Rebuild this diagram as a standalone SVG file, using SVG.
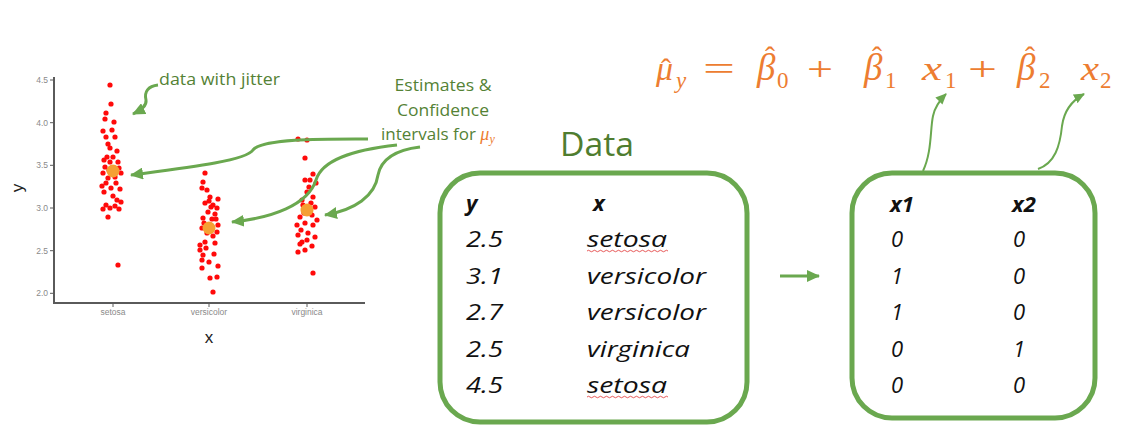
<svg xmlns="http://www.w3.org/2000/svg" width="1136" height="440" viewBox="0 0 1136 440">
<style>
.dot{fill:#ff0a0a}
.mean{fill:#f5a033}
.tick{font-family:"Liberation Sans",Arial,sans-serif;font-size:8.5px;fill:#8a8a8a}
.axt{font-family:"Liberation Sans",Arial,sans-serif;font-size:17px;fill:#222}
.ann{font-family:"Open Sans","Liberation Sans",sans-serif;font-size:17px;fill:#548235}
.title{font-family:"Open Sans","Liberation Sans",sans-serif;font-size:32px;fill:#4f7d30}
.cell{font-family:"Open Sans","Liberation Sans",sans-serif;font-style:italic;font-size:22px;fill:#111}
.hd{font-weight:bold}
.box{fill:none;stroke:#6aa84f;stroke-width:5}
.conn{fill:none;stroke:#6aa84f;stroke-width:3}
.thin{fill:none;stroke:#6aa84f;stroke-width:2}
.eq{font-family:"Liberation Serif","DejaVu Serif",serif;font-style:italic;fill:#ed7d31;font-size:34px}
.up{font-style:normal}
.sub{font-size:23px}
.big{font-size:37px}
.hat{font-style:normal;font-size:30px}
.wavy{fill:none;stroke:#e03030;stroke-width:0.8}
</style>
<defs>
<marker id="ah" markerUnits="userSpaceOnUse" markerWidth="14" markerHeight="12" refX="12" refY="6" orient="auto">
<path d="M0,0 L13,6 L0,12 Z" fill="#6aa84f"/>
</marker>
<marker id="ahs" markerUnits="userSpaceOnUse" markerWidth="12" markerHeight="10" refX="10" refY="5" orient="auto">
<path d="M0,0 L11,5 L0,10 Z" fill="#6aa84f"/>
</marker>
</defs>

<g id="plot">
<path d="M54,77 L54,303 L365,303" fill="none" stroke="#5a5a5a" stroke-width="2"/>
<g stroke="#5a5a5a" stroke-width="1">
<path d="M50,80 H54 M50,122.7 H54 M50,165.3 H54 M50,208 H54 M50,250.7 H54 M50,293.3 H54"/>
<path d="M113,303 V307 M209,303 V307 M307,303 V307"/>
</g>
<g class="tick" text-anchor="end">
<text x="48" y="83">4.5</text>
<text x="48" y="125.7">4.0</text>
<text x="48" y="168.3">3.5</text>
<text x="48" y="211">3.0</text>
<text x="48" y="253.7">2.5</text>
<text x="48" y="296.3">2.0</text>
</g>
<g class="tick" text-anchor="middle">
<text x="113" y="315">setosa</text>
<text x="209" y="315">versicolor</text>
<text x="307" y="315">virginica</text>
</g>
<text class="axt" x="209" y="343" text-anchor="middle">x</text>
<text class="axt" x="0" y="0" text-anchor="middle" transform="translate(23,188) rotate(-90)">y</text>
<g id="points">
<circle class="dot" cx="110" cy="85" r="2.6"/><circle class="dot" cx="111" cy="104" r="2.6"/><circle class="dot" cx="106" cy="113" r="2.6"/><circle class="dot" cx="105" cy="119" r="2.6"/><circle class="dot" cx="103" cy="131" r="2.6"/><circle class="dot" cx="112" cy="130" r="2.6"/><circle class="dot" cx="106" cy="137" r="2.6"/><circle class="dot" cx="115" cy="137" r="2.6"/><circle class="dot" cx="110" cy="148" r="2.6"/><circle class="dot" cx="117" cy="151" r="2.6"/><circle class="dot" cx="107" cy="157" r="2.6"/><circle class="dot" cx="113" cy="157" r="2.6"/><circle class="dot" cx="110" cy="162" r="2.6"/><circle class="dot" cx="105" cy="167" r="2.6"/><circle class="dot" cx="119" cy="168" r="2.6"/><circle class="dot" cx="103" cy="173" r="2.6"/><circle class="dot" cx="121" cy="173" r="2.6"/><circle class="dot" cx="108" cy="178" r="2.6"/><circle class="dot" cx="115" cy="177" r="2.6"/><circle class="dot" cx="106" cy="183" r="2.6"/><circle class="dot" cx="111" cy="188" r="2.6"/><circle class="dot" cx="104" cy="192" r="2.6"/><circle class="dot" cx="117" cy="200" r="2.6"/><circle class="dot" cx="121" cy="202" r="2.6"/><circle class="dot" cx="106" cy="205" r="2.6"/><circle class="dot" cx="115" cy="206" r="2.6"/><circle class="dot" cx="103" cy="209" r="2.6"/><circle class="dot" cx="110" cy="208" r="2.6"/><circle class="dot" cx="108" cy="217" r="2.6"/><circle class="dot" cx="118" cy="265" r="2.6"/>
<circle class="dot" cx="104" cy="160" r="2.6"/><circle class="dot" cx="118" cy="162" r="2.6"/><circle class="dot" cx="109" cy="170" r="2.6"/><circle class="dot" cx="116" cy="183" r="2.6"/><circle class="dot" cx="102" cy="186" r="2.6"/><circle class="dot" cx="113" cy="196" r="2.6"/><circle class="dot" cx="120" cy="189" r="2.6"/><circle class="dot" cx="108" cy="144" r="2.6"/><circle class="dot" cx="114" cy="122" r="2.6"/><circle class="dot" cx="119" cy="209" r="2.6"/>
<circle class="dot" cx="205" cy="173" r="2.6"/><circle class="dot" cx="203" cy="182" r="2.6"/><circle class="dot" cx="202" cy="188" r="2.6"/><circle class="dot" cx="207" cy="190" r="2.6"/><circle class="dot" cx="210" cy="197" r="2.6"/><circle class="dot" cx="218" cy="199" r="2.6"/><circle class="dot" cx="205" cy="203" r="2.6"/><circle class="dot" cx="213" cy="205" r="2.6"/><circle class="dot" cx="217" cy="208" r="2.6"/><circle class="dot" cx="208" cy="212" r="2.6"/><circle class="dot" cx="215" cy="214" r="2.6"/><circle class="dot" cx="203" cy="218" r="2.6"/><circle class="dot" cx="212" cy="219" r="2.6"/><circle class="dot" cx="218" cy="225" r="2.6"/><circle class="dot" cx="202" cy="228" r="2.6"/><circle class="dot" cx="217" cy="232" r="2.6"/><circle class="dot" cx="207" cy="233" r="2.6"/><circle class="dot" cx="205" cy="242" r="2.6"/><circle class="dot" cx="215" cy="243" r="2.6"/><circle class="dot" cx="200" cy="250" r="2.6"/><circle class="dot" cx="203" cy="255" r="2.6"/><circle class="dot" cx="202" cy="260" r="2.6"/><circle class="dot" cx="209" cy="262" r="2.6"/><circle class="dot" cx="218" cy="266" r="2.6"/><circle class="dot" cx="202" cy="268" r="2.6"/><circle class="dot" cx="210" cy="278" r="2.6"/><circle class="dot" cx="217" cy="277" r="2.6"/><circle class="dot" cx="213" cy="292" r="2.6"/>
<circle class="dot" cx="211" cy="207" r="2.6"/><circle class="dot" cx="216" cy="219" r="2.6"/><circle class="dot" cx="204" cy="223" r="2.6"/><circle class="dot" cx="213" cy="236" r="2.6"/><circle class="dot" cx="206" cy="248" r="2.6"/><circle class="dot" cx="214" cy="254" r="2.6"/><circle class="dot" cx="200" cy="245" r="2.6"/><circle class="dot" cx="209" cy="201" r="2.6"/>
<circle class="dot" cx="298" cy="139" r="2.6"/><circle class="dot" cx="307" cy="140" r="2.6"/><circle class="dot" cx="305" cy="158" r="2.6"/><circle class="dot" cx="305" cy="180" r="2.6"/><circle class="dot" cx="313" cy="174" r="2.6"/><circle class="dot" cx="309" cy="187" r="2.6"/><circle class="dot" cx="316" cy="183" r="2.6"/><circle class="dot" cx="307" cy="192" r="2.6"/><circle class="dot" cx="313" cy="197" r="2.6"/><circle class="dot" cx="302" cy="200" r="2.6"/><circle class="dot" cx="315" cy="207" r="2.6"/><circle class="dot" cx="300" cy="217" r="2.6"/><circle class="dot" cx="312" cy="215" r="2.6"/><circle class="dot" cx="297" cy="225" r="2.6"/><circle class="dot" cx="305" cy="223" r="2.6"/><circle class="dot" cx="313" cy="225" r="2.6"/><circle class="dot" cx="298" cy="235" r="2.6"/><circle class="dot" cx="308" cy="233" r="2.6"/><circle class="dot" cx="315" cy="237" r="2.6"/><circle class="dot" cx="302" cy="242" r="2.6"/><circle class="dot" cx="307" cy="240" r="2.6"/><circle class="dot" cx="298" cy="252" r="2.6"/><circle class="dot" cx="305" cy="250" r="2.6"/><circle class="dot" cx="313" cy="273" r="2.6"/>
<circle class="dot" cx="310" cy="180" r="2.6"/><circle class="dot" cx="303" cy="205" r="2.6"/><circle class="dot" cx="310" cy="213" r="2.6"/><circle class="dot" cx="301" cy="230" r="2.6"/><circle class="dot" cx="317" cy="220" r="2.6"/><circle class="dot" cx="304" cy="213" r="2.6"/><circle class="dot" cx="311" cy="203" r="2.6"/><circle class="dot" cx="300" cy="244" r="2.6"/><circle class="dot" cx="312" cy="246" r="2.6"/>
</g>
<circle class="mean" cx="113" cy="171" r="6.5"/>
<circle class="mean" cx="209" cy="228" r="6.5"/>
<circle class="mean" cx="307" cy="210" r="6.5"/>
</g>

<g id="label-jitter">
<text class="ann" x="159" y="85" textLength="121" lengthAdjust="spacingAndGlyphs" fill="#4a7a2a">data with jitter</text>
</g>

<g id="label-estimates">
<text class="ann" x="443" y="91" text-anchor="middle" textLength="97" lengthAdjust="spacingAndGlyphs">Estimates &amp;</text>
<text class="ann" x="443" y="116" text-anchor="middle" textLength="92" lengthAdjust="spacingAndGlyphs">Confidence</text>
<text class="ann" x="381" y="140">intervals for <tspan class="eq" style="font-size:18px">μ<tspan style="font-size:12px" dy="3">y</tspan></tspan></text>
</g>

<g id="equation">
<text class="eq"><tspan x="656" y="80">μ</tspan><tspan class="hat" x="661" y="79">ˆ</tspan><tspan class="sub" x="676" y="88">y</tspan><tspan class="up" x="703" y="80" textLength="32" lengthAdjust="spacingAndGlyphs">=</tspan><tspan class="big" x="757" y="80">β</tspan><tspan class="hat" x="765" y="67">ˆ</tspan><tspan class="up sub" x="777" y="88">0</tspan><tspan class="up" x="807" y="80" textLength="26" lengthAdjust="spacingAndGlyphs">+</tspan><tspan class="big" x="864" y="80">β</tspan><tspan class="hat" x="872" y="67">ˆ</tspan><tspan class="up sub" x="885" y="88">1</tspan><tspan x="922" y="80" textLength="20" lengthAdjust="spacingAndGlyphs">x</tspan><tspan class="up sub" x="945" y="88">1</tspan><tspan class="up" x="968" y="80" textLength="29" lengthAdjust="spacingAndGlyphs">+</tspan><tspan class="big" x="1017" y="80">β</tspan><tspan class="hat" x="1025" y="67">ˆ</tspan><tspan class="up sub" x="1039" y="88">2</tspan><tspan x="1081" y="80" textLength="18" lengthAdjust="spacingAndGlyphs">x</tspan><tspan class="up sub" x="1100" y="88">2</tspan></text>
</g>

<g id="data-title">
<text class="title" x="597" y="156" text-anchor="middle" textLength="74" lengthAdjust="spacingAndGlyphs">Data</text>
</g>

<g id="data-box">
<rect class="box" x="440" y="173" width="307" height="249" rx="40" ry="40"/>
<text class="cell hd" x="466" y="211">y</text>
<text class="cell hd" x="593" y="211">x</text>
<text class="cell" x="466" y="247" textLength="37" lengthAdjust="spacingAndGlyphs">2.5</text>
<text class="cell" x="466" y="284" textLength="37" lengthAdjust="spacingAndGlyphs">3.1</text>
<text class="cell" x="466" y="320" textLength="37" lengthAdjust="spacingAndGlyphs">2.7</text>
<text class="cell" x="466" y="357" textLength="37" lengthAdjust="spacingAndGlyphs">2.5</text>
<text class="cell" x="466" y="393" textLength="37" lengthAdjust="spacingAndGlyphs">4.5</text>
<text class="cell" x="587" y="247" textLength="80" lengthAdjust="spacingAndGlyphs">setosa</text>
<text class="cell" x="587" y="284" textLength="119" lengthAdjust="spacingAndGlyphs">versicolor</text>
<text class="cell" x="587" y="320" textLength="119" lengthAdjust="spacingAndGlyphs">versicolor</text>
<text class="cell" x="587" y="357" textLength="103" lengthAdjust="spacingAndGlyphs">virginica</text>
<text class="cell" x="587" y="393" textLength="80" lengthAdjust="spacingAndGlyphs">setosa</text>
<path class="wavy" d="M587,251 q1.5,-1.5 3,0 t3,0 t3,0 t3,0 t3,0 t3,0 t3,0 t3,0 t3,0 t3,0 t3,0 t3,0 t3,0 t3,0 t3,0 t3,0 t3,0 t3,0 t3,0 t3,0 t3,0 t3,0 t3,0 t3,0 t3,0 t3,0 t3,0"/>
<path class="wavy" d="M587,397 q1.5,-1.5 3,0 t3,0 t3,0 t3,0 t3,0 t3,0 t3,0 t3,0 t3,0 t3,0 t3,0 t3,0 t3,0 t3,0 t3,0 t3,0 t3,0 t3,0 t3,0 t3,0 t3,0 t3,0 t3,0 t3,0 t3,0 t3,0 t3,0"/>
</g>

<g id="dummy-box">
<rect class="box" x="852" y="173" width="243" height="245" rx="40" ry="40"/>
<text class="cell hd" x="890" y="212">x1</text>
<text class="cell hd" x="1012" y="212">x2</text>
<text class="cell" x="891" y="247">0</text>
<text class="cell" x="891" y="284">1</text>
<text class="cell" x="891" y="320">1</text>
<text class="cell" x="891" y="357">0</text>
<text class="cell" x="891" y="393">0</text>
<text class="cell" x="1013" y="247">0</text>
<text class="cell" x="1013" y="284">0</text>
<text class="cell" x="1013" y="320">0</text>
<text class="cell" x="1013" y="357">1</text>
<text class="cell" x="1013" y="393">0</text>
</g>

<g id="connectors">
<path class="conn" marker-end="url(#ah)" d="M158,85 C148,86 144,92 146,100 C147,106 141,110 133,114"/>
<path class="conn" marker-end="url(#ah)" d="M368,139 C330,139 262,138 253,150 C246,161 185,168 131,175"/>
<path class="conn" marker-end="url(#ah)" d="M397,145 C352,150 322,160 316,180 C308,205 272,218 232,222"/>
<path class="conn" marker-end="url(#ah)" d="M420,147 C395,150 381,160 378,175 C375,196 355,210 325,215"/>
<path class="conn" stroke-width="4" marker-end="url(#ah)" d="M780,276 L819,276"/>
<path class="thin" marker-end="url(#ahs)" d="M923,171 C932,152 930,130 933,116 C935,106 940,100 946,94"/>
<path class="thin" marker-end="url(#ahs)" d="M1038,169 C1055,163 1060,146 1062,126 C1064,111 1073,100 1084,94"/>
</g>
</svg>
